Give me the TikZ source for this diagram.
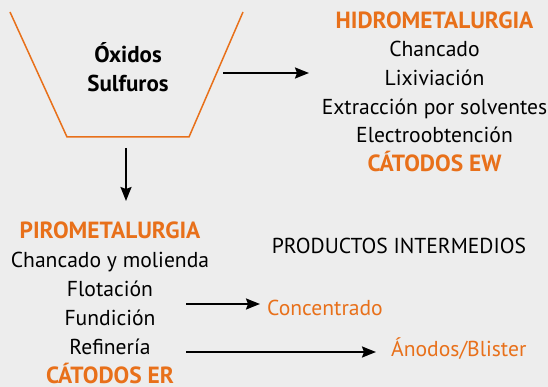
\documentclass[tikz,border=0pt]{standalone}
\usepackage{fontspec}
\setmainfont{PT Sans}
\usepackage{xcolor}
\usepackage{tikz}
\usetikzlibrary{positioning,calc,arrows.meta}

\definecolor{bgray}{HTML}{EDEDED}
\definecolor{ornge}{HTML}{E8701A}

\tikzset{
    txt/.style={anchor=base,inner sep=0pt,font=\fontsize{21.6}{26}\selectfont},
    ttl/.style={txt,text=ornge,font=\fontsize{23.4}{28}\selectfont\bfseries},
    flecha/.style={line width=1.9pt,-{Stealth[length=14pt,width=11pt,inset=2pt]}},
}

\begin{document}
\begin{tikzpicture}[x=1pt,y=-1pt]
    \fill[bgray] (0,0) rectangle (548,387);
    \useasboundingbox (0,0) rectangle (548,387);

    % Embudo
    \coordinate (tl) at (10,12);
    \coordinate (bl) at (67,137);
    \coordinate (br) at (189,137);
    \coordinate (tr) at (243,12);
    \draw[ornge,line width=1.5pt] (tl) -- (bl) -- (br) -- (tr);
    \node[txt,font=\fontsize{23}{27}\selectfont\bfseries] (oxidos) at (128,63) {Óxidos};
    \node[txt,font=\fontsize{23}{27}\selectfont\bfseries] (sulfuros) at (128,92) {Sulfuros};

    % Hidrometalurgia
    \node[ttl] (hidro) at (434.5,29) {HIDROMETALURGIA};
    \node[txt] (h1) at (434.5,57) {Chancado};
    \node[txt] (h2) at (434.5,86) {Lixiviación};
    \node[txt] (h3) at (434.5,114.5) {Extracción por solventes};
    \node[txt] (h4) at (434.5,143) {Electroobtención};
    \node[ttl] (ew) at (434.5,172) {CÁTODOS EW};

    % Pirometalurgia
    \node[ttl] (piro) at (110,238) {PIROMETALURGIA};
    \node[txt] (p1) at (110,267) {Chancado y molienda};
    \node[txt] (p2) at (110,296.5) {Flotación};
    \node[txt] (p3) at (110,325) {Fundición};
    \node[txt] (p4) at (110,354) {Refinería};
    \node[ttl] (er) at (110,383) {CÁTODOS ER};

    % Productos intermedios
    \node[txt] (prod) at (399,253) {PRODUCTOS INTERMEDIOS};
    \node[txt,text=ornge,anchor=base west] (conc) at (267,315) {Concentrado};
    \node[txt,text=ornge,anchor=base west] (anodos) at (391,356) {Ánodos/Blister};

    % Flechas
    \coordinate (a1) at (223,73);
    \coordinate (a1f) at (309,73);
    \coordinate (a2) at (126,148);
    \coordinate (a2f) at (126,201);
    \coordinate (a3) at (186,304);
    \coordinate (a3f) at (260,304);
    \coordinate (a4) at (186,352);
    \coordinate (a4f) at (376,352);
    \draw[flecha] (a1) -- (a1f);
    \draw[flecha] (a2) -- (a2f);
    \draw[flecha] (a3) -- (a3f);
    \draw[flecha] (a4) -- (a4f);
\end{tikzpicture}
\end{document}
